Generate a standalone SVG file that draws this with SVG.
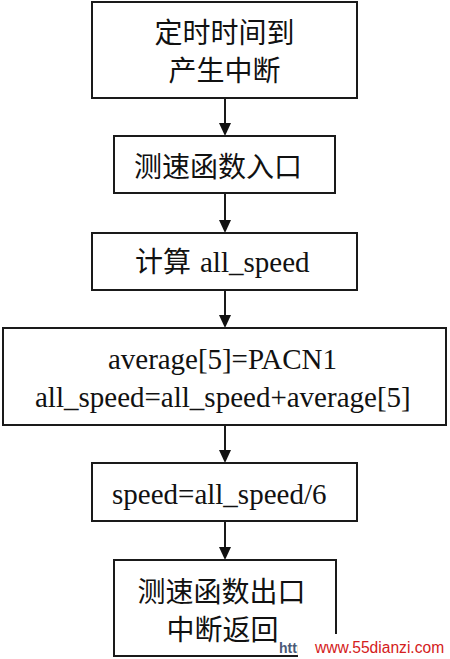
<svg xmlns="http://www.w3.org/2000/svg" width="450" height="659" viewBox="0 0 450 659">
<defs>
<style>
.box{fill:#fff;stroke:#1a1a1a;stroke-width:2}
.cn{font-family:"Noto Sans CJK SC","Noto Sans",sans-serif;font-size:28px;fill:#111;text-anchor:middle}
.en{font-family:"Liberation Serif",serif;font-size:29px;fill:#111}
.edge{stroke:#1a1a1a;stroke-width:2;fill:none}
.head{fill:#111}
</style>
</defs>
<rect width="450" height="659" fill="#fff"/>
<g id="connectors">
<line class="edge" x1="225" y1="98" x2="225" y2="124"/>
<path class="head" d="M219,123 L231,123 L225,136 Z"/>
<line class="edge" x1="225" y1="194" x2="225" y2="221"/>
<path class="head" d="M219,220 L231,220 L225,233 Z"/>
<line class="edge" x1="225" y1="291" x2="225" y2="316"/>
<path class="head" d="M219,315 L231,315 L225,328 Z"/>
<line class="edge" x1="225" y1="426" x2="225" y2="451"/>
<path class="head" d="M219,450 L231,450 L225,463 Z"/>
<line class="edge" x1="225" y1="522" x2="225" y2="548"/>
<path class="head" d="M219,547 L231,547 L225,560 Z"/>
</g>
<g id="n1">
<rect class="box" x="92" y="2" width="265" height="96"/>
<text class="cn" x="224.5" y="42.5">定时时间到</text>
<text class="cn" x="224.5" y="81">产生中断</text>
</g>
<g id="n2">
<rect class="box" x="114" y="136" width="221" height="57"/>
<text class="cn" x="218" y="176.5">测速函数入口</text>
</g>
<g id="n3">
<rect class="box" x="92" y="233" width="265" height="57"/>
<text x="135" y="272"><tspan class="cn" style="text-anchor:start">计算</tspan><tspan class="en" x="200">all_speed</tspan></text>
</g>
<g id="n4">
<rect class="box" x="3" y="328" width="443" height="97"/>
<text class="en" x="108" y="369" textLength="229" lengthAdjust="spacing">average[5]=PACN1</text>
<text class="en" x="35" y="407">all_speed=all_speed+average[5]</text>
</g>
<g id="n5">
<rect class="box" x="92" y="463" width="265" height="58"/>
<text class="en" x="112" y="504">speed=all_speed/6</text>
</g>
<g id="n6">
<rect class="box" x="114" y="560" width="222" height="96"/>
<text class="cn" x="221.5" y="601.5">测速函数出口</text>
<text class="cn" x="222.5" y="639.5">中断返回</text>
</g>
<g id="watermark">
<text x="279" y="653" style="font-family:'Liberation Sans',sans-serif;font-size:14px;font-weight:bold;fill:#4a5a78">http</text>
<rect x="298" y="634" width="152" height="25" fill="#fff"/>
<text x="315" y="653" style="font-family:'Liberation Sans',sans-serif;font-size:15.6px;fill:#d42020">www.55dianzi.com</text>
</g>
</svg>
